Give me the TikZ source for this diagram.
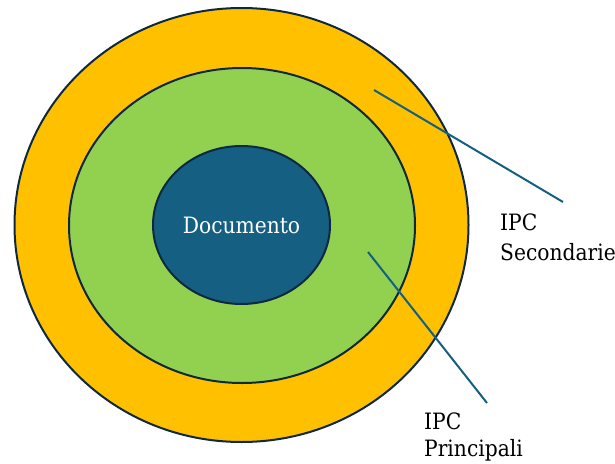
\documentclass[tikz,border=0pt]{standalone}
\usepackage{fontspec}
\setmainfont{DejaVu Serif Condensed}
\usetikzlibrary{shapes.geometric}
\definecolor{ringorange}{HTML}{FFC000}
\definecolor{ringgreen}{HTML}{92D050}
\definecolor{coreblue}{HTML}{156082}
\definecolor{edgenavy}{HTML}{0E2841}
\tikzset{
  ring/.style={ellipse, draw=edgenavy, line width=2pt, inner sep=0pt},
  leader/.style={draw=coreblue, line width=2pt},
  caption/.style={anchor=north west, align=left, inner sep=0pt,
    font=\fontsize{22.5}{29.5}\selectfont, text=black}
}
\begin{document}
\begin{tikzpicture}[x=1pt,y=-1pt]
  \useasboundingbox (0,0) rectangle (615,463);
  % nested rings
  \node[ring, fill=ringorange, minimum width=454pt, minimum height=434pt] (outer) at (241.5,225) {};
  \node[ring, fill=ringgreen, minimum width=346pt, minimum height=315pt] (middle) at (242,225.5) {};
  \node[ring, fill=coreblue, minimum width=177pt, minimum height=158pt,
        text=white, font=\fontsize{22.5}{27}\selectfont] (core) at (241.5,225) {Documento};
  % captions
  \node[caption] (sec) at (500,214) {IPC\\Secondarie};
  \node[caption, font=\fontsize{22.5}{27}\selectfont] (pri) at (424,413) {IPC\\Principali};
  % leader lines
  \coordinate (secstart) at (374,90);
  \coordinate (secend) at (563,202);
  \coordinate (pristart) at (368,252);
  \coordinate (priend) at (487,403);
  \draw[leader] (secstart) -- (secend);
  \draw[leader] (pristart) -- (priend);
\end{tikzpicture}
\end{document}
